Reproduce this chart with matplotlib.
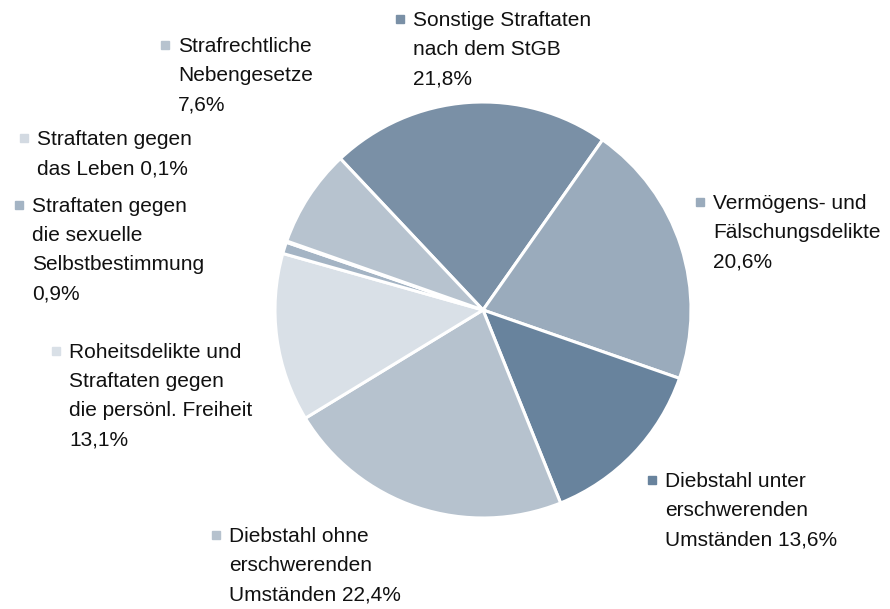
# Pie chart: Anteile der Straftatengruppen

import matplotlib
matplotlib.use('Agg')
import matplotlib.pyplot as plt
from matplotlib.patches import Rectangle

plt.rcParams['font.family'] = ['Liberation Sans', 'DejaVu Sans']

# slices in clockwise order, starting at upper left
labels = [
    'Sonstige Straftaten\nnach dem StGB\n21,8%',
    'Vermögens- und\nFälschungsdelikte\n20,6%',
    'Diebstahl unter\nerschwerenden\nUmständen 13,6%',
    'Diebstahl ohne\nerschwerenden\nUmständen 22,4%',
    'Roheitsdelikte und\nStraftaten gegen\ndie persönl. Freiheit\n13,1%',
    'Straftaten gegen\ndie sexuelle\nSelbstbestimmung\n0,9%',
    'Straftaten gegen\ndas Leben 0,1%',
    'Strafrechtliche\nNebengesetze\n7,6%',
]
shares = [21.8, 20.6, 13.6, 22.4, 13.1, 0.9, 0.1, 7.6]
colors = ['#7a90a6', '#9aabbc', '#68839d', '#b6c2ce',
          '#d9e0e7', '#a4b4c4', '#d3dae2', '#b7c3cf']

# label anchor (text left, cap top) in pixels
label_pos = [(413, 12), (713, 195), (665, 473), (229, 528),
             (69, 344), (32, 198), (37, 131), (178, 38)]

W, H = 890, 609
fig = plt.figure(figsize=(W / 100, H / 100), dpi=100)

# pie axes: centre (483, 310), radius 208 px
cx, cy, r = 483, 310, 208
ax = fig.add_axes([(cx - r) / W, (H - cy - r) / H, 2 * r / W, 2 * r / H])
ax.pie(shares, colors=colors, startangle=133.3, counterclock=False,
       wedgeprops=dict(edgecolor='white', linewidth=2.2))
ax.set_xlim(-1, 1)
ax.set_ylim(-1, 1)

# overlay in pixel coordinates for the labels
ov = fig.add_axes([0, 0, 1, 1])
ov.set_xlim(0, W)
ov.set_ylim(H, 0)
ov.axis('off')

for text, col, (x, y) in zip(labels, colors, label_pos):
    ov.add_patch(Rectangle((x - 17, y + 3), 8, 8, color=col))
    ov.text(x, y - 1, text, fontsize=15, va='top', ha='left',
            linespacing=1.68, color='#111111')

plt.savefig('out.png', dpi=100)
plt.close()
